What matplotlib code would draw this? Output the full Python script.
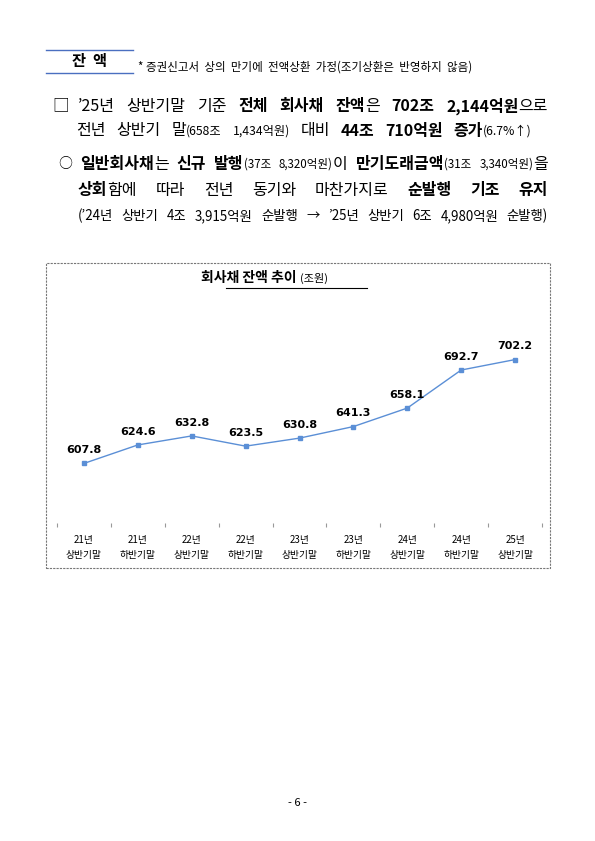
import matplotlib
matplotlib.use("Agg")
import matplotlib.pyplot as plt
from matplotlib.patches import Rectangle

plt.rcParams['font.family'] = ['Noto Sans CJK KR', 'DejaVu Sans']

periods = ["21년\n상반기말", "21년\n하반기말", "22년\n상반기말", "22년\n하반기말", "23년\n상반기말",
           "23년\n하반기말", "24년\n상반기말", "24년\n하반기말", "25년\n상반기말"]
balances = [607.8, 624.6, 632.8, 623.5, 630.8, 641.3, 658.1, 692.7, 702.2]

W, H = 595, 841
fig = plt.figure(figsize=(W/100, H/100), dpi=100)
fig.patch.set_facecolor("white")

def fx(x): return x / W
def fy(y): return 1 - y / H

# header
fig.add_artist(plt.Line2D([fx(46), fx(133)], [fy(50), fy(50)], color="#4a6fc0", lw=1))
fig.add_artist(plt.Line2D([fx(46), fx(133)], [fy(73), fy(73)], color="#4a6fc0", lw=1))
fig.text(fx(89), fy(61), "잔  액", ha="center", va="center", fontsize=11, fontweight="bold")
fig.text(fx(138), fy(67), "* 증권신고서  상의  만기에  전액상환  가정(조기상환은  반영하지  않음)",
         ha="left", va="center", fontsize=8.3)

renderer = fig.canvas.get_renderer()

def segline(x, y, segs, size, right=None):
    # split into words; each word is list of (text,bold,size) pieces
    words = [[]]
    for txt, bold, s in segs:
        parts = txt.split(" ")
        for i, p in enumerate(parts):
            if i > 0:
                words.append([])
            if p:
                words[-1].append((p, bold, s if s else size))
    words = [w for w in words if w]
    widths = []
    for w in words:
        tw = 0
        for p, b, s in w:
            t = fig.text(0, 0, p, fontsize=s, fontweight="bold" if b else "normal")
            tw += t.get_window_extent(renderer).width
            t.remove()
        widths.append(tw)
    sp = fig.text(0, 0, " ", fontsize=size)
    gap = sp.get_window_extent(renderer).width * 1.2
    sp.remove()
    if right is not None and len(words) > 1:
        gap = (right - x - sum(widths)) / (len(words) - 1)
    for w in words:
        for p, b, s in w:
            t = fig.text(fx(x), fy(y), p, ha="left", va="center", fontsize=s,
                         fontweight="bold" if b else "normal")
            x += t.get_window_extent(renderer).width
        x += gap

fig.text(fx(52), fy(106), "□", ha="left", va="center", fontsize=12)
segline(78, 106, [("’25년 상반기말 기준 ", False, None), ("전체 회사채 잔액", True, None),
                  ("은 ", False, None), ("702조 2,144억원", True, None), ("으로", False, None)], 11.5, right=548)
segline(76, 131, [("전년 상반기 말", False, None), ("(658조 1,434억원)", False, 8.8), (" 대비 ", False, None),
                  ("44조 710억원 증가", True, None), ("(6.7%↑)", False, 8.8)], 11.5, right=532)
fig.text(fx(58), fy(164), "○", ha="left", va="center", fontsize=10)
segline(80, 164, [("일반회사채", True, None), ("는 ", False, None), ("신규 발행", True, None),
                  ("(37조 8,320억원)", False, 8.3), ("이 ", False, None), ("만기도래금액", True, None),
                  ("(31조 3,340억원)", False, 8.3), ("을", False, None)], 11.5, right=548)
segline(78, 190, [("상회", True, None), ("함에 따라 전년 동기와 마찬가지로 ", False, None),
                  ("순발행 기조 유지", True, None)], 11.5, right=548)
segline(78, 216, [("(’24년 상반기 4조 3,915억원 순발행 → ’25년 상반기 6조 4,980억원 순발행)", False, 9.6)],
        9.6, right=548)

# chart box
fig.add_artist(Rectangle((fx(46), fy(568)), fx(550) - fx(46), fy(263) - fy(568),
                         transform=fig.transFigure, fill=False, ec="#777777", lw=0.8, ls=(0, (2, 1))))
fig.text(fx(300), fy(278), "회사채 잔액 추이 ", ha="right", va="center", fontsize=10, fontweight="bold")
fig.text(fx(300), fy(278), "(조원)", ha="left", va="center", fontsize=8)
fig.add_artist(plt.Line2D([fx(226), fx(367)], [fy(288), fy(288)], color="black", lw=0.8))

ax = fig.add_axes([fx(57), fy(527), fx(542) - fx(57), fy(307) - fy(527)])
x = list(range(len(balances)))
ax.plot(x, balances, color="#5b8fd6", lw=1.0, marker="s", ms=2.8)
for xi, v in zip(x, balances):
    ax.annotate(f"{v:.1f}", (xi, v), xytext=(0, 6), textcoords="offset points",
                ha="center", va="bottom", fontsize=8, fontweight="bold", family="DejaVu Sans")
ax.set_xlim(-0.5, len(balances) - 0.5)
ax.set_ylim(550, 750)
for s in ["top", "right", "left", "bottom"]:
    ax.spines[s].set_visible(False)
ax.set_yticks([])
ax.set_xticks([i - 0.5 for i in range(len(balances) + 1)], minor=False)
ax.set_xticklabels([])
ax.tick_params(axis="x", length=3, color="#999999", direction="in")
ax.set_xticks(x, minor=True)
ax.set_xticklabels(periods, minor=True, fontsize=7, linespacing=1.6)
ax.tick_params(axis="x", which="minor", length=0, pad=6)

fig.text(0.5, fy(803), "- 6 -", ha="center", va="center", fontsize=8)

fig.savefig("out.png", dpi=100)
